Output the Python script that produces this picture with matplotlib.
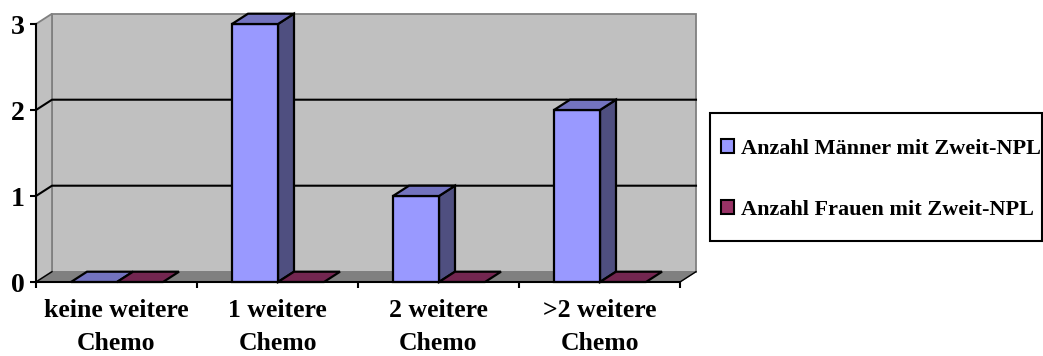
import matplotlib
matplotlib.use("Agg")
import matplotlib.pyplot as plt
from matplotlib.patches import Polygon, Patch, Rectangle

categories = ["keine weitere\nChemo", "1 weitere\nChemo", "2 weitere\nChemo", ">2 weitere\nChemo"]
men = [0, 3, 1, 2]
women = [0, 0, 0, 0]
series_labels = ["Anzahl Männer mit Zweit-NPL", "Anzahl Frauen mit Zweit-NPL"]
y_ticks = [0, 1, 2, 3]

plt.rcParams["font.family"] = ["Liberation Serif", "DejaVu Serif"]
plt.rcParams["font.weight"] = "bold"

fig = plt.figure(figsize=(10.43, 3.56), dpi=100)
W, H = 1043, 356
# front plane of the 3D box, in pixels: x 36..680, y 24..282
ax = fig.add_axes([36 / W, 1 - 282 / H, 644 / W, 258 / H])
ax.set_xlim(0, len(categories))
ax.set_ylim(0, 3)
ax.patch.set_visible(False)
for side in ("top", "right"):
    ax.spines[side].set_visible(False)
for side in ("left", "bottom"):
    ax.spines[side].set_linewidth(1.5)
    ax.spines[side].set_zorder(6)

DX = 16 / 161   # depth offset along the category axis
DY = 10.3 / 86  # depth offset along the value axis


def poly(pts, fc, ec="black", lw=1.6, z=3):
    ax.add_patch(Polygon(pts, closed=True, facecolor=fc, edgecolor=ec, linewidth=lw,
                         zorder=z, clip_on=False, joinstyle="miter"))


n = len(categories)
ymax = y_ticks[-1]
# walls and floor
poly([(DX, DY), (n + DX, DY), (n + DX, ymax + DY), (DX, ymax + DY)], "#C0C0C0", "#808080", 1.3, 1)
poly([(0, 0), (DX, DY), (DX, ymax + DY), (0, ymax)], "#C0C0C0", "#808080", 1.3, 1)
poly([(0, 0), (n, 0), (n + DX, DY), (DX, DY)], "#808080", "#808080", 0.8, 1)

# gridlines run along the back wall and down the side wall
for v in y_ticks[1:-1]:
    ax.plot([0, DX, n + DX], [v, v + DY, v + DY], color="black", lw=1.5, zorder=2, clip_on=False)
ax.plot([0, DX], [0, DY], color="black", lw=1.0, zorder=2, clip_on=False)
ax.plot([n, n + DX], [0, DY], color="black", lw=1.0, zorder=2, clip_on=False)

BAR_W = 46 / 161
START = 35 / 161


def bar3d(x0, h, front, top, right):
    x1 = x0 + BAR_W
    if h > 0:
        poly([(x1, 0), (x1 + DX, DY), (x1 + DX, h + DY), (x1, h)], right)
        poly([(x0, 0), (x1, 0), (x1, h), (x0, h)], front)
    poly([(x0, h), (x1, h), (x1 + DX, h + DY), (x0 + DX, h + DY)], top)


for i in range(n):
    bar3d(i + START, men[i], "#9999FF", "#7373BF", "#4F4F80")
    bar3d(i + START + BAR_W, women[i], "#993366", "#732650", "#4C1A33")

ax.set_yticks(y_ticks)
ax.set_yticklabels([str(v) for v in y_ticks], fontsize=20, fontweight="bold")
ax.tick_params(axis="y", length=4, width=1.5, pad=4)
ax.set_xticks(range(n + 1))
ax.set_xticklabels([])
ax.tick_params(axis="x", which="major", length=4, width=1.5)
ax.set_xticks([i + 0.5 for i in range(n)], minor=True)
ax.set_xticklabels(categories, minor=True, fontsize=18.5, fontweight="bold", linespacing=1.55)
ax.tick_params(axis="x", which="minor", length=0, pad=12.5)

# legend frame, spanning to the right-hand edge
fig.add_artist(Rectangle((710 / W, 1 - 241 / H), 332 / W, 128 / H, transform=fig.transFigure,
                         facecolor="white", edgecolor="black", linewidth=1.5))
handles = [Patch(facecolor="#9999FF", edgecolor="black", linewidth=1.5),
           Patch(facecolor="#993366", edgecolor="black", linewidth=1.5)]
fig.legend(handles, series_labels, loc="center left",
           bbox_to_anchor=(721 / W, 1 - 179.5 / H), bbox_transform=fig.transFigure,
           frameon=False, prop={"size": 16, "weight": "bold"},
           handlelength=0.58, handleheight=0.58,
           handletextpad=0.3, labelspacing=1.85, borderpad=0, borderaxespad=0)

fig.savefig("out.png", dpi=100, facecolor="white")
